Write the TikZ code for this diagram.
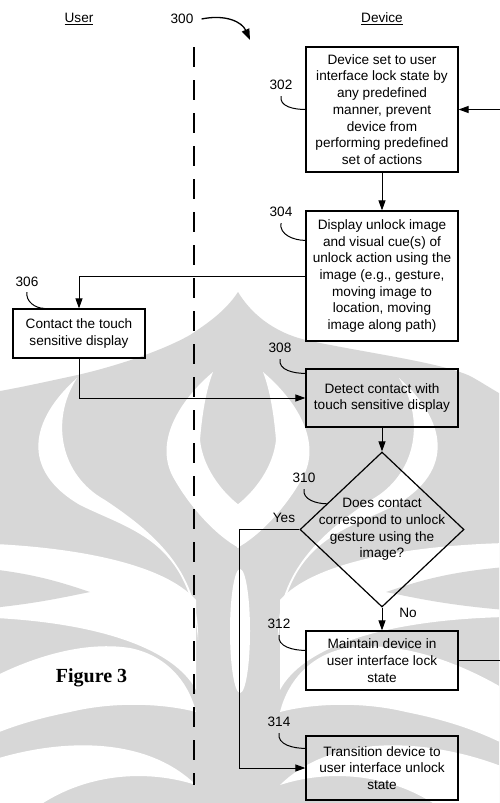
\documentclass[tikz,border=0pt]{standalone}
\usepackage{fontspec}
\setmainfont{Liberation Sans}
\newfontfamily\figfont{Liberation Serif}
\usetikzlibrary{arrows.meta,shapes.geometric,calc}

\definecolor{wm}{RGB}{215,215,215}
\newcommand\txt{\fontsize{13.6}{16.7}\selectfont}

% one half of the background emblem: white swooshes cut out of the grey ground
\newcommand\wmHalf{%
  % outer crescent
  \fill[white] (77,378) .. controls (30,420) and (20,470) .. (80,505)
    .. controls (130,530) and (190,540) .. (198,640)
    .. controls (200,570) and (150,530) .. (105,500)
    .. controls (60,475) and (50,420) .. (77,378) -- cycle;
  % upper swoosh
  \fill[white] (-30,543) .. controls (80,546) and (165,565) .. (196,600)
    -- (196,690) .. controls (175,650) and (100,620) .. (-30,617) -- cycle;
  % band round the caption
  \fill[white] (-30,690) .. controls (20,660) and (80,640) .. (130,648)
    .. controls (165,655) and (188,680) .. (196,712)
    .. controls (170,705) and (120,700) .. (70,712)
    .. controls (30,720) and (0,730) .. (-30,745) -- cycle;
  % lowest swoosh
  \fill[white] (-30,768) .. controls (40,740) and (140,730) .. (196,785)
    .. controls (150,770) and (90,772) .. (40,805) -- (-30,805) -- cycle;
  % inner crescent beside the spike
  \fill[white] (213,372) .. controls (180,400) and (155,440) .. (172,475)
    .. controls (188,505) and (215,535) .. (239,548) -- (239,505)
    .. controls (222,492) and (203,468) .. (200,440)
    .. controls (202,415) and (206,390) .. (213,372) -- cycle;
  % grey wedge and foot
  \fill[wm] (-30,567) .. controls (30,572) and (60,582) .. (90,592)
    .. controls (60,598) and (30,605) .. (-30,610) -- cycle;
  \fill[wm] (50,805) .. controls (80,785) and (140,780) .. (175,805) -- cycle;
}

\tikzset{
  box/.style={draw, line width=1.2pt, inner sep=0pt, align=center, font=\txt},
  lbl/.style={inner sep=1pt, font=\txt},
  arr/.style={line width=1pt, -{Triangle[length=10pt,width=7pt]}},
  lead/.style={line width=1pt},
}

\begin{document}
\begin{tikzpicture}[x=1pt, y=-1pt]
\useasboundingbox (0,0) rectangle (499,803);
\fill[white] (0,0) rectangle (499,803);

% background emblem
\begin{scope}
  \clip (0,0) rectangle (499,803);
  \fill[wm] (238,292) .. controls (225,312) and (205,325) .. (190,335)
    .. controls (160,352) and (110,368) .. (73,376)
    .. controls (40,383) and (10,390) .. (-30,396)
    -- (-30,810) -- (238.5,810) -- cycle;
  \fill[wm] (238,292) .. controls (250,312) and (272,332) .. (306,340)
    .. controls (360,352) and (440,362) .. (470,376)
    .. controls (485,384) and (495,392) .. (530,410)
    -- (530,810) -- (237.5,810) -- cycle;
  \wmHalf
  \begin{scope}[shift={(476,0)}, xscale=-1]
    \wmHalf
  \end{scope}
  \fill[white] (240,631) ellipse [x radius=10pt, y radius=62pt];
\end{scope}

% column headings and divider
\node[lbl] (uUser) at (79,19) {\underline{User}};
\node[lbl] (uDev) at (382,19) {\underline{Device}};
\node[lbl] (l300) at (182,19) {300};
\coordinate (c300) at (250,40);
\draw[line width=1.3pt, -{Triangle[length=11pt,width=8pt]}]
  ([xshift=7pt]l300.east) .. controls (226,14) and (242,22) .. (c300);
\coordinate (divTop) at (194,47);
\coordinate (divBot) at (194,785);
\draw[line width=1.3pt, dash pattern=on 20pt off 13pt] (divTop) -- (divBot);

% steps
\node[box, minimum width=152pt, minimum height=125pt] (b302) at (382,109.5)
  {Device set to user\\interface lock state by\\any predefined\\manner, prevent\\device from\\performing predefined\\set of actions};
\node[box, minimum width=152pt, minimum height=130pt] (b304) at (382,276)
  {Display unlock image\\and visual cue(s) of\\unlock action using the\\image (e.g., gesture,\\moving image to\\location, moving\\image along path)};
\node[box, minimum width=132pt, minimum height=49pt] (b306) at (79,333.5)
  {Contact the touch\\sensitive display};
\node[box, minimum width=152pt, minimum height=58pt] (b308) at (382,398)
  {Detect contact with\\touch sensitive display};
\node[draw, diamond, line width=1.2pt, minimum width=164pt, minimum height=155pt, inner sep=0pt] (d310) at (382,529.5) {};
\node[font=\txt, align=center, inner sep=0pt] (t310) at (382,529.5)
  {Does contact\\correspond to unlock\\gesture using the\\image?};
\node[box, minimum width=152pt, minimum height=59pt] (b312) at (382,660.5)
  {Maintain device in\\user interface lock\\state};
\node[box, minimum width=152pt, minimum height=64pt] (b314) at (382,768)
  {Transition device to\\user interface unlock\\state};

% reference numerals
\node[lbl] (l302) at (281,85) {302};
\node[lbl] (l304) at (281,212) {304};
\node[lbl] (l306) at (27,282) {306};
\node[lbl] (l308) at (280,348) {308};
\node[lbl] (l310) at (304,478) {310};
\node[lbl] (l312) at (279,624) {312};
\node[lbl] (l314) at (279,722) {314};
\draw[lead] ([yshift=-5pt]l302.south) to[out=-100,in=180] (b302.west);
\draw[lead] ([yshift=-5pt]l304.south) to[out=-100,in=180] ([yshift=-30pt]b304.north west);
\draw[lead] ([yshift=-4pt]l306.south) to[out=-100,in=180] ([xshift=32pt]b306.north west);
\draw[lead] ([yshift=-5pt]l308.south) to[out=-100,in=180] ([yshift=-5pt]b308.north west);
\draw[lead] ([yshift=-5pt]l310.south) to[out=-100,in=180] ($(d310.west)!0.33!(d310.north)$);
\draw[lead] ([yshift=-5pt]l312.south) to[out=-100,in=180] ([yshift=-20pt]b312.north west);
\draw[lead] ([yshift=-5pt]l314.south) to[out=-100,in=180] ([yshift=-13pt]b314.north west);

% flow
\draw[arr] (b302.south) -- (b304.north);
\draw[arr] (b304.west) -| (b306.north);
\draw[arr] (b306.south) |- (b308.west);
\draw[arr] (b308.south) -- (d310.north);
\draw[arr] (d310.west) -- ++(-60,0) |- (b314.west);
\draw[arr] (d310.south) -- (b312.north);
\coordinate (loopx) at (512,0);
\draw[arr] (b312.east) -- (b312.east -| loopx) -- (b302.east -| loopx) -- (b302.east);
\node[lbl] (yes) at (284,518) {Yes};
\node[lbl] (no) at (408,613) {No};

\node[font=\figfont\bfseries\fontsize{20}{24}\selectfont, inner sep=0pt] (fig) at (91.5,678) {Figure 3};
\end{tikzpicture}
\end{document}
